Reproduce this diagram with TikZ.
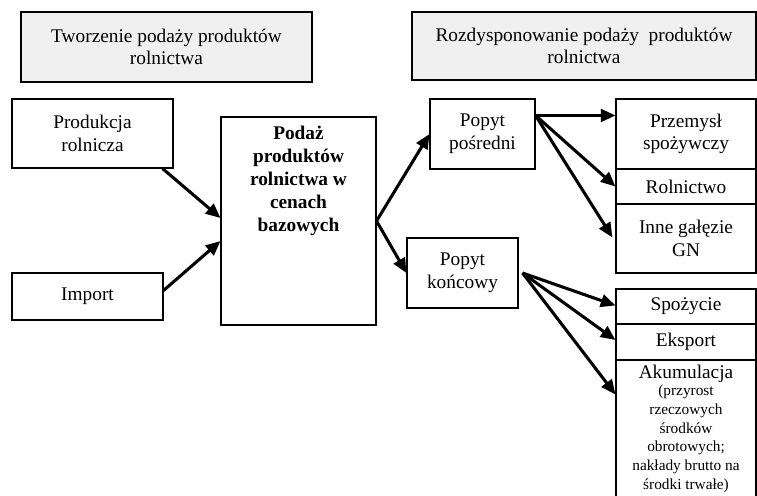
\documentclass[tikz,border=0pt]{standalone}
\usepackage{fontspec}
\setmainfont{Liberation Serif}
\usetikzlibrary{arrows.meta,calc}
\begin{document}
\begin{tikzpicture}[x=0.75pt,y=-0.75pt,
    box/.style={draw, line width=0.8pt, align=center, inner sep=1pt, font=\fontsize{14.5}{17}\selectfont},
    titlebox/.style={box, fill=black!6},
    colbox/.style={box, minimum width=105pt},
    flow/.style={line width=2.3pt, -{Triangle[length=11pt,width=9.5pt]}}]
    \path[use as bounding box, clip] (0,0) rectangle (757,496);

    % Headers
    \node[titlebox, minimum width=218.25pt, minimum height=52.5pt] (hdrmake) at (166.5,47) {Tworzenie podaży produktów\\rolnictwa};
    \node[titlebox, minimum width=258pt, minimum height=51pt] (hdrsplit) at (584,46) {Rozdysponowanie podaży \ produktów\\rolnictwa};

    % Sources
    \node[box, minimum width=120.75pt, minimum height=51.75pt] (prod) at (92.5,133.5) {Produkcja\\rolnicza};
    \node[box, minimum width=113.25pt, minimum height=35.25pt] (import) at (87.5,296.5) {Import};

    % Supply
    \node[box, minimum width=116.25pt, minimum height=156pt] (podaz) at (298.5,221) {};
    \node[anchor=north, align=center, inner sep=0pt, font=\fontsize{14.5}{17.25}\selectfont\bfseries] (podaztxt) at ($(podaz.north)+(0,9)$) {Podaż\\produktów\\rolnictwa w\\cenach\\bazowych};

    % Demand
    \node[box, minimum width=78.75pt, minimum height=52.5pt] (posredni) at (482.5,134) {Popyt\\pośredni};
    \node[box, minimum width=83.25pt, minimum height=52.5pt] (koncowy) at (462.5,273) {Popyt\\końcowy};

    % Intermediate users
    \node[colbox, minimum height=52.5pt] (przemysl) at (686,134) {Przemysł\\spożywczy};
    \node[colbox, minimum height=26.25pt] (rolnictwo) at (686,186.5) {Rolnictwo};
    \node[colbox, minimum height=51.75pt] (inne) at (686,238.5) {Inne gałęzie\\GN};

    % Final users
    \node[colbox, minimum height=26.25pt] (spozycie) at (686,306.5) {Spożycie};
    \node[colbox, minimum height=27pt] (eksport) at (686,342) {Eksport};
    \node[colbox, minimum height=112.5pt] (akum) at (686,435) {};
    \node[anchor=north, inner sep=0pt, font=\fontsize{14.5}{17}\selectfont] (akumtxt) at ($(akum.north)+(0,5)$) {Akumulacja};
    \node[anchor=north, align=center, inner sep=0pt, font=\fontsize{11.5}{14.1}\selectfont] (akumnote) at ($(akumtxt.south)+(0,2)$) {(przyrost\\rzeczowych\\środków\\obrotowych;\\nakłady brutto na\\środki trwałe)};

    % Inflows
    \draw[flow] ($(prod.south east)+(-11,0)$) -- ($(podaz.west)+(0,-3)$);
    \draw[flow] ($(import.east)+(0,-6)$) -- ($(podaz.west)+(0,20)$);

    % Split
    \coordinate (fork) at (podaz.east);
    \draw[flow] (fork) -- (posredni.west);
    \draw[flow] (fork) -- (koncowy.west);

    \coordinate (midout) at ($(posredni.north east)+(0,17)$);
    \draw[flow] (midout) -- (midout -| przemysl.west);
    \draw[flow] (midout) -- (rolnictwo.west);
    \draw[flow] (midout) -- ($(inne.west)+(-3,-1)$);

    \coordinate (finout) at ($(koncowy.east)+(4,0)$);
    \draw[flow] (finout) -- ($(spozycie.west)+(0,-1)$);
    \draw[flow] (finout) -- ($(eksport.west)+(0,-2)$);
    \draw[flow] (finout) -- ($(akum.north west)+(0,35)$);
\end{tikzpicture}
\end{document}
